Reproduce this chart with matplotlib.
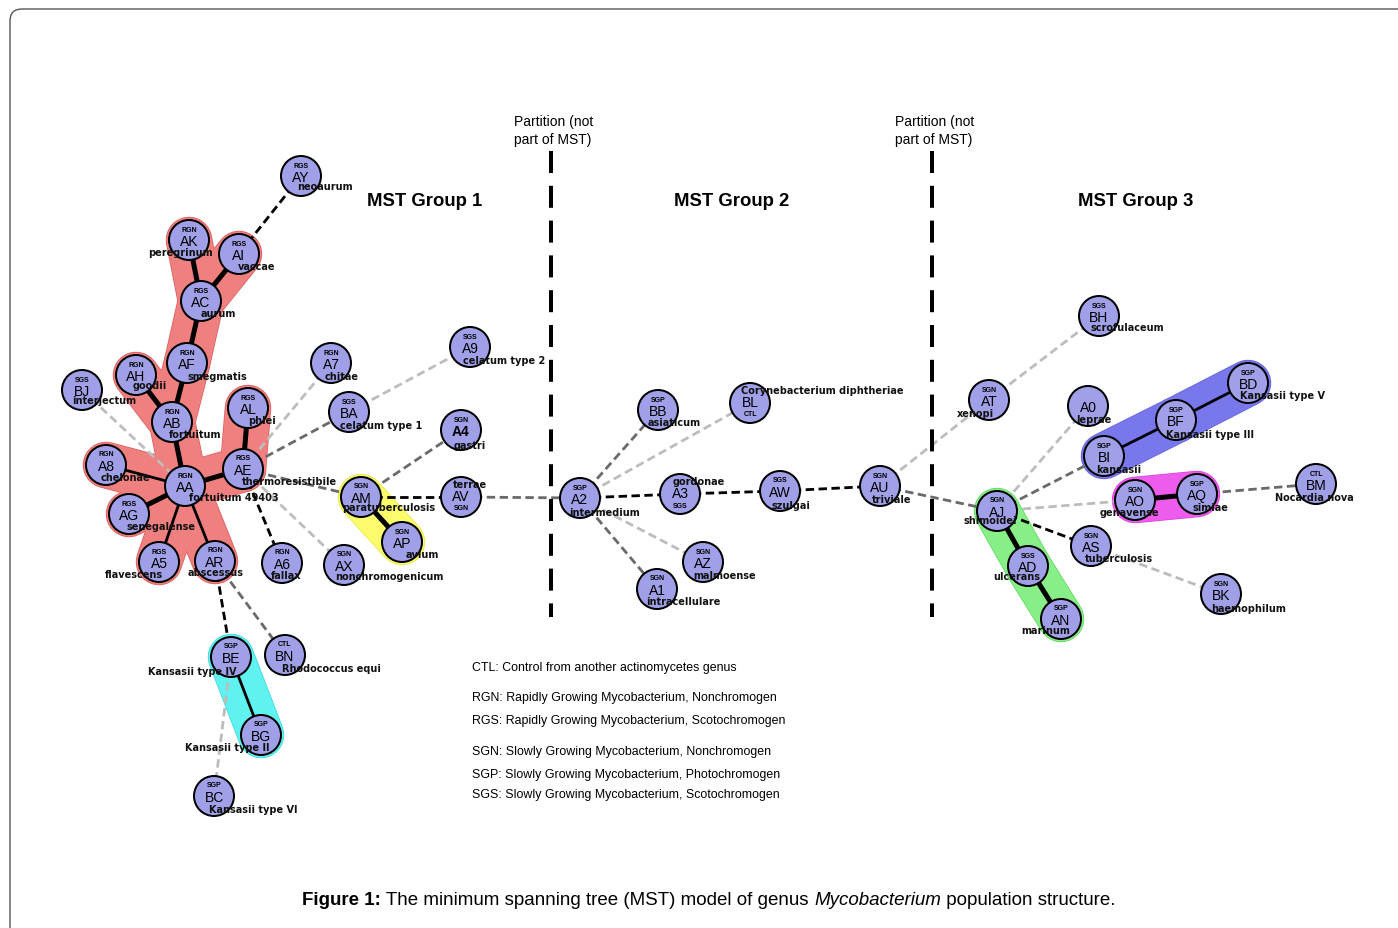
import matplotlib.pyplot as plt
from matplotlib.patches import Circle, FancyBboxPatch

# node data (pixel positions in the figure)
ids = ["AY", "AK", "AI", "AC", "AF", "AH", "BJ", "AB", "AL", "AE", "A8", "AA", "AG", "A5", "AR",
       "A6", "AX", "A7", "BA", "A9", "A4", "AM", "AP", "AV", "BE", "BG", "BN", "BC",
       "A2", "BB", "BL", "A3", "AW", "AU", "AZ", "A1",
       "AT", "BH", "A0", "BI", "BF", "BD", "AO", "AQ", "BM", "AJ", "AS", "AD", "AN", "BK"]
node_x = [301, 189, 239, 201, 187, 136, 82, 172, 248, 243, 106, 185, 129, 159, 215,
          282, 344, 331, 349, 470, 461, 361, 402, 461, 231, 261, 285, 214,
          580, 658, 750, 680, 780, 880, 703, 657,
          989, 1099, 1088, 1104, 1176, 1248, 1135, 1197, 1316, 997, 1091, 1028, 1061, 1221]
node_y = [177, 241, 255, 302, 364, 376, 391, 423, 409, 470, 466, 487, 515, 563, 562,
          564, 566, 364, 413, 348, 431, 498, 543, 498, 658, 736, 656, 797,
          499, 411, 404, 495, 492, 487, 563, 590,
          401, 317, 407, 457, 421, 384, 501, 495, 485, 512, 547, 567, 620, 595]
types = ["RGS", "RGN", "RGS", "RGS", "RGN", "RGN", "SGS", "RGN", "RGS", "RGS", "RGN", "RGN", "RGS", "RGS", "RGN",
         "RGN", "SGN", "RGN", "SGS", "SGS", "SGN", "SGN", "SGN", "SGN", "SGP", "SGP", "CTL", "SGP",
         "SGP", "SGP", "CTL", "SGS", "SGS", "SGN", "SGN", "SGN",
         "SGN", "SGS", "", "SGP", "SGP", "SGP", "SGN", "SGP", "CTL", "SGN", "SGN", "SGS", "SGP", "SGN"]
names = ["neoaurum", "peregrinum", "vaccae", "aurum", "smegmatis", "goodii", "interjectum", "fortuitum",
         "phlei", "thermoresistibile", "chelonae", "fortuitum 49403", "senegalense", "flavescens", "abscessus",
         "fallax", "nonchromogenicum", "chitae", "celatum type 1", "celatum type 2", "gastri",
         "paratuberculosis", "avium", "terrae", "Kansasii type IV", "Kansasii type II", "Rhodococcus equi",
         "Kansasii type VI",
         "intermedium", "asiaticum", "Corynebacterium diphtheriae", "gordonae", "szulgai", "triviale",
         "malmoense", "intracellulare",
         "xenopi", "scrofulaceum", "leprae", "kansasii", "Kansasii type III", "Kansasii type V", "genavense",
         "simiae", "Nocardia nova", "shimoidei", "tuberculosis", "ulcerans", "marinum", "haemophilum"]
name_dx = [24, -9, 18, 17, 30, 14, 22, 23, 14, 46, 19, 49, 32, -25, 1,
           4, 45, 11, 32, 34, 9, 28, 20, 9, -39, -34, 46, 39,
           25, 16, 72, 19, 11, 12, 22, 26,
           -14, 28, 6, 15, 34, 34, -6, 13, -2, -7, 28, -11, -15, 28]
name_dy = [10, 12, 12, 12, 13, 10, 10, 12, 12, 12, 12, 11, 12, 12, 11,
           12, 11, 13, 13, 13, 15, 10, 12, -13, 14, 12, 13, 13,
           14, 12, -13, -13, 14, 13, 13, 12,
           13, 11, 13, 13, 14, 12, 12, 13, 13, 9, 12, 10, 11, 14]
type_below = ["AV", "A3", "BL"]

# edges: thick / solid / dash (black) / grey / light
edges = [("AK", "AC", "thick"), ("AI", "AC", "thick"), ("AC", "AF", "thick"), ("AF", "AB", "thick"),
         ("AH", "AB", "thick"), ("AB", "AA", "thick"), ("AA", "AE", "thick"), ("AE", "AL", "thick"),
         ("AA", "AG", "thick"), ("AM", "AP", "thick"), ("AO", "AQ", "thick"), ("AJ", "AD", "thick"),
         ("AD", "AN", "thick"),
         ("AA", "A8", "solid"), ("AA", "A5", "solid"), ("AA", "AR", "solid"), ("BE", "BG", "solid"),
         ("BI", "BF", "solid"), ("BF", "BD", "solid"),
         ("AY", "AI", "dash"), ("AE", "A6", "dash"), ("AR", "BE", "dash"), ("AM", "AV", "dash"),
         ("A2", "A3", "dash"), ("A3", "AW", "dash"), ("AW", "AU", "dash"), ("AJ", "AS", "dash"),
         ("AE", "BA", "grey"), ("AE", "AM", "grey"), ("AM", "A4", "grey"), ("AV", "A2", "grey"),
         ("A2", "BB", "grey"), ("A2", "A1", "grey"), ("AU", "AJ", "grey"), ("AJ", "BI", "grey"),
         ("AQ", "BM", "grey"), ("AR", "BN", "grey"),
         ("BJ", "AA", "light"), ("AE", "A7", "light"), ("BA", "A9", "light"), ("AE", "AX", "light"),
         ("A2", "BL", "light"), ("A2", "AZ", "light"), ("AU", "AT", "light"), ("AT", "BH", "light"),
         ("AJ", "A0", "light"), ("AJ", "AO", "light"), ("AS", "BK", "light"), ("BE", "BC", "light")]

# highlighted clusters (edges to shade) and their colours
hull_red = [("AK", "AC"), ("AI", "AC"), ("AC", "AF"), ("AF", "AB"), ("AH", "AB"), ("AB", "AA"),
            ("AA", "AE"), ("AE", "AL"), ("AA", "A8"), ("AA", "AG"), ("AA", "A5"), ("AA", "AR")]
hull_yellow = [("AM", "AP")]
hull_cyan = [("BE", "BG")]
hull_blue = [("BI", "BF"), ("BF", "BD")]
hull_magenta = [("AO", "AQ")]
hull_green = [("AJ", "AD"), ("AD", "AN")]
hulls = [(hull_red, "#f08080", "#dc5c5c"), (hull_yellow, "#fbfb6c", "#e8e840"),
         (hull_cyan, "#60f2f0", "#40d8d8"), (hull_blue, "#7878ec", "#6060dc"),
         (hull_magenta, "#ee5cee", "#d840d8"), (hull_green, "#88ee88", "#60d860")]

partition_x = [551, 932]
group_titles = ["MST Group 1", "MST Group 2", "MST Group 3"]
group_title_x = [425, 732, 1136]
legend_lines = ["CTL: Control from another actinomycetes genus",
                "RGN: Rapidly Growing Mycobacterium, Nonchromogen",
                "RGS: Rapidly Growing Mycobacterium, Scotochromogen",
                "SGN: Slowly Growing Mycobacterium, Nonchromogen",
                "SGP: Slowly Growing Mycobacterium, Photochromogen",
                "SGS: Slowly Growing Mycobacterium, Scotochromogen"]
legend_y = [668, 698, 721, 752, 775, 795]

pos = {n: (x, y) for n, x, y in zip(ids, node_x, node_y)}
PX = 0.72  # points per pixel at dpi 100

fig = plt.figure(figsize=(13.98, 9.29), dpi=100)
ax = fig.add_axes([0, 0, 1, 1])
ax.set_xlim(0, 1398)
ax.set_ylim(929, 0)
ax.axis("off")

# outer frame
ax.add_patch(FancyBboxPatch((10, 10), 1420, 940, boxstyle="round,pad=0,rounding_size=12",
                            fc="none", ec="#555555", lw=1))

# cluster shading
for hull, fc, ec in hulls:
    for a, b in hull:
        ax.plot([pos[a][0], pos[b][0]], [pos[a][1], pos[b][1]], color=ec, lw=46.5 * PX,
                solid_capstyle="round", zorder=0.8)
for hull, fc, ec in hulls:
    for a, b in hull:
        ax.plot([pos[a][0], pos[b][0]], [pos[a][1], pos[b][1]], color=fc, lw=45 * PX,
                solid_capstyle="round", zorder=0.9)

styles = {"thick": dict(color="black", lw=5 * PX, ls="-"),
          "solid": dict(color="black", lw=2.8 * PX, ls="-"),
          "dash": dict(color="black", lw=2.8 * PX, ls=(0, (3, 1.6))),
          "grey": dict(color="#6a6a6a", lw=2.8 * PX, ls=(0, (3, 1.6))),
          "light": dict(color="#bdbdbd", lw=2.8 * PX, ls=(0, (3, 1.6)))}
for a, b, s in edges:
    ax.plot([pos[a][0], pos[b][0]], [pos[a][1], pos[b][1]], zorder=2, **styles[s])

# partitions
for px_ in partition_x:
    ax.plot([px_, px_], [152, 618], color="black", lw=4 * PX, ls=(0, (5.5, 3.2)), zorder=2)
    ax.text(px_ - 37, 115, "Partition (not\npart of MST)", fontsize=10, family="Liberation Sans",
            va="top", ha="left", linespacing=1.38)
for t, gx in zip(group_titles, group_title_x):
    ax.text(gx, 201, t, fontsize=13.3, fontweight="bold", family="Liberation Sans",
            ha="center", va="center")

# nodes
for n, x, y, t, nm, dx, dy in zip(ids, node_x, node_y, types, names, name_dx, name_dy):
    ax.add_patch(Circle((x, y), 20, fc="#a0a0e8", ec="black", lw=2 * PX, zorder=3))
    bold = "bold" if n == "A4" else "normal"
    if t == "":
        ax.text(x, y + 1, n, fontsize=10, ha="center", va="center", family="Liberation Sans",
                fontweight=bold, zorder=4)
    elif n in type_below:
        ax.text(x, y - 1, n, fontsize=10, ha="center", va="center", family="Liberation Sans",
                fontweight=bold, zorder=4)
        ax.text(x, y + 11, t, fontsize=5, ha="center", va="center", family="Liberation Sans",
                fontweight="bold", zorder=4)
    else:
        ax.text(x, y - 11, t, fontsize=5, ha="center", va="center", family="Liberation Sans",
                fontweight="bold", zorder=4)
        ax.text(x, y + 1, n, fontsize=10, ha="center", va="center", family="Liberation Sans",
                fontweight=bold, zorder=4)
    ax.text(x + dx, y + dy, nm, fontsize=7, ha="center", va="center", fontweight="bold",
            family="DejaVu Sans", color="#111111", zorder=5)

# legend text
for s, ly in zip(legend_lines, legend_y):
    ax.text(472, ly, s, fontsize=8.9, family="Liberation Sans", ha="left", va="center")

# caption with mixed styles
fig.canvas.draw()
renderer = fig.canvas.get_renderer()
parts = [("Figure 1:", "bold", "normal"),
         (" The minimum spanning tree (MST) model of genus ", "normal", "normal"),
         ("Mycobacterium", "normal", "italic"),
         (" population structure.", "normal", "normal")]
widths = []
objs = []
for s, w, st in parts:
    tt = ax.text(0, 901, s, fontsize=13.5, fontweight=w, fontstyle=st, family="Liberation Sans",
                 ha="left", va="center")
    objs.append(tt)
    widths.append(tt.get_window_extent(renderer).width)
x0 = 709 - sum(widths) / 2
for tt, w in zip(objs, widths):
    tt.set_x(x0)
    x0 += w

fig.savefig("out.png", dpi=100)
